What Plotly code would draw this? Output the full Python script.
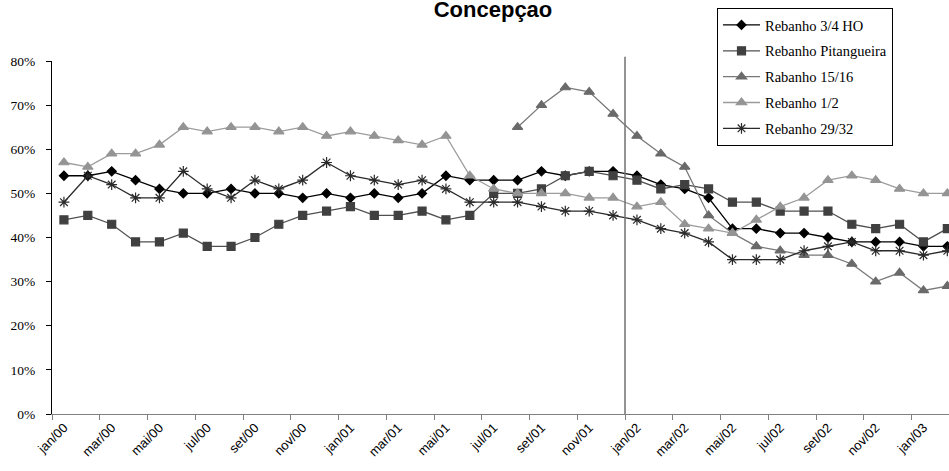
import plotly.graph_objects as go

# ---- data -------------------------------------------------------------
categories = [
    "jan/00", "fev/00", "mar/00", "abr/00", "mai/00", "jun/00", "jul/00", "ago/00",
    "set/00", "out/00", "nov/00", "dez/00",
    "jan/01", "fev/01", "mar/01", "abr/01", "mai/01", "jun/01", "jul/01", "ago/01",
    "set/01", "out/01", "nov/01", "dez/01",
    "jan/02", "fev/02", "mar/02", "abr/02", "mai/02", "jun/02", "jul/02", "ago/02",
    "set/02", "out/02", "nov/02", "dez/02",
    "jan/03", "fev/03",
]
tick_labels = categories[::2]

rebanho_34ho = [54, 54, 55, 53, 51, 50, 50, 51, 50, 50, 49, 50,
                49, 50, 49, 50, 54, 53, 53, 53, 55, 54, 55, 55,
                54, 52, 51, 49, 42, 42, 41, 41, 40, 39, 39, 39, 38, 38]
rebanho_pitangueira = [44, 45, 43, 39, 39, 41, 38, 38, 40, 43, 45, 46,
                       47, 45, 45, 46, 44, 45, 50, 50, 51, 54, 55, 54,
                       53, 51, 52, 51, 48, 48, 46, 46, 46, 43, 42, 43, 39, 42]
rabanho_1516 = [None] * 19 + [65, 70, 74, 73, 68,
                              63, 59, 56, 45, 41, 38, 37, 36, 36, 34, 30, 32, 28, 29]
rebanho_12 = [57, 56, 59, 59, 61, 65, 64, 65, 65, 64, 65, 63,
              64, 63, 62, 61, 63, 54, 51, 50, 50, 50, 49, 49,
              47, 48, 43, 42, 41, 44, 47, 49, 53, 54, 53, 51, 50, 50]
rebanho_2932 = [48, 54, 52, 49, 49, 55, 51, 49, 53, 51, 53, 57,
                54, 53, 52, 53, 51, 48, 48, 48, 47, 46, 46, 45,
                44, 42, 41, 39, 35, 35, 35, 37, 38, 39, 37, 37, 36, 37]

marker_month = "jan/02"

# ---- figure -------------------------------------------------------------
idx = list(range(len(categories)))
serif = "Liberation Serif, Times New Roman, serif"
sans = "Liberation Sans, Arial, sans-serif"

series = [
    ("Rebanho 3/4 HO", rebanho_34ho, "diamond", 7, "#000000", "#000000"),
    ("Rebanho Pitangueira", rebanho_pitangueira, "square", 8, "#404040", "#505050"),
    ("Rabanho 15/16", rabanho_1516, "triangle-up", 9, "#6a6a6a", "#787878"),
    ("Rebanho 1/2", rebanho_12, "triangle-up", 9, "#949494", "#9c9c9c"),
    ("Rebanho 29/32", rebanho_2932, "asterisk-open", 9, "#2a2a2a", "#2a2a2a"),
]

fig = go.Figure()
for name, vals, sym, size, mcol, lcol in series:
    fig.add_trace(go.Scatter(
        x=idx, y=vals, name=name, mode="lines+markers",
        legendgroup=name,
        line=dict(color=lcol, width=1.3),
        marker=dict(symbol=sym, size=size, color=mcol,
                    line=dict(color=mcol, width=1.2)),
        connectgaps=False, cliponaxis=False,
    ))

# invisible trace to host the tick-mark axis
fig.add_trace(go.Scatter(x=[], y=[], xaxis="x2", showlegend=False, hoverinfo="skip"))

x_range = [-0.5, 37.07]
fig.update_layout(
    width=949, height=471,
    margin=dict(l=52, r=0, t=61, b=57),
    paper_bgcolor="white", plot_bgcolor="white",
    showlegend=True,
    title=dict(text="<b>Concepçao</b>", font=dict(family=sans, size=22, color="black"),
               x=493 / 949, xanchor="center", xref="container",
               y=0.981, yanchor="middle", yref="container"),
    xaxis=dict(range=x_range, tickmode="array",
               tickvals=[categories.index(t) for t in tick_labels], ticktext=tick_labels,
               tickangle=-45, ticks="", showgrid=False, zeroline=False,
               showline=True, linecolor="#808080", linewidth=1,
               tickfont=dict(family=sans, size=13, color="black")),
    xaxis2=dict(overlaying="x", anchor="y", side="bottom", range=x_range,
                tickmode="array",
                tickvals=[i - 0.5 for i in idx[::2]] + [len(categories) - 0.5],
                showticklabels=False, ticks="outside", ticklen=5, tickwidth=1,
                tickcolor="#808080", showgrid=False, zeroline=False, showline=False),
    yaxis=dict(range=[0, 80], dtick=10, ticksuffix="%", ticks="outside", ticklen=5,
               tickcolor="black", showline=True, linecolor="black", linewidth=1,
               showgrid=False, zeroline=False, ticklabelstandoff=8,
               tickfont=dict(family=serif, size=13.5, color="black")),
    legend=dict(x=(717 - 52) / 897, y=(414 - 8) / 353, xanchor="left", yanchor="top",
                bordercolor="black", borderwidth=1, bgcolor="white",
                font=dict(family=serif, size=14.5, color="black"),
                tracegroupgap=4, itemwidth=37, entrywidth=166),
)

mk = categories.index(marker_month) - 0.5
fig.add_shape(type="line", xref="x", yref="paper", x0=mk, x1=mk, y0=0, y1=1.012,
              line=dict(color="#707070", width=1.5))

fig.write_html("out.html",
               config={"displayModeBar": False},
               post_script="document.body.style.margin='0px';"
                           "document.body.style.overflow='hidden';")
